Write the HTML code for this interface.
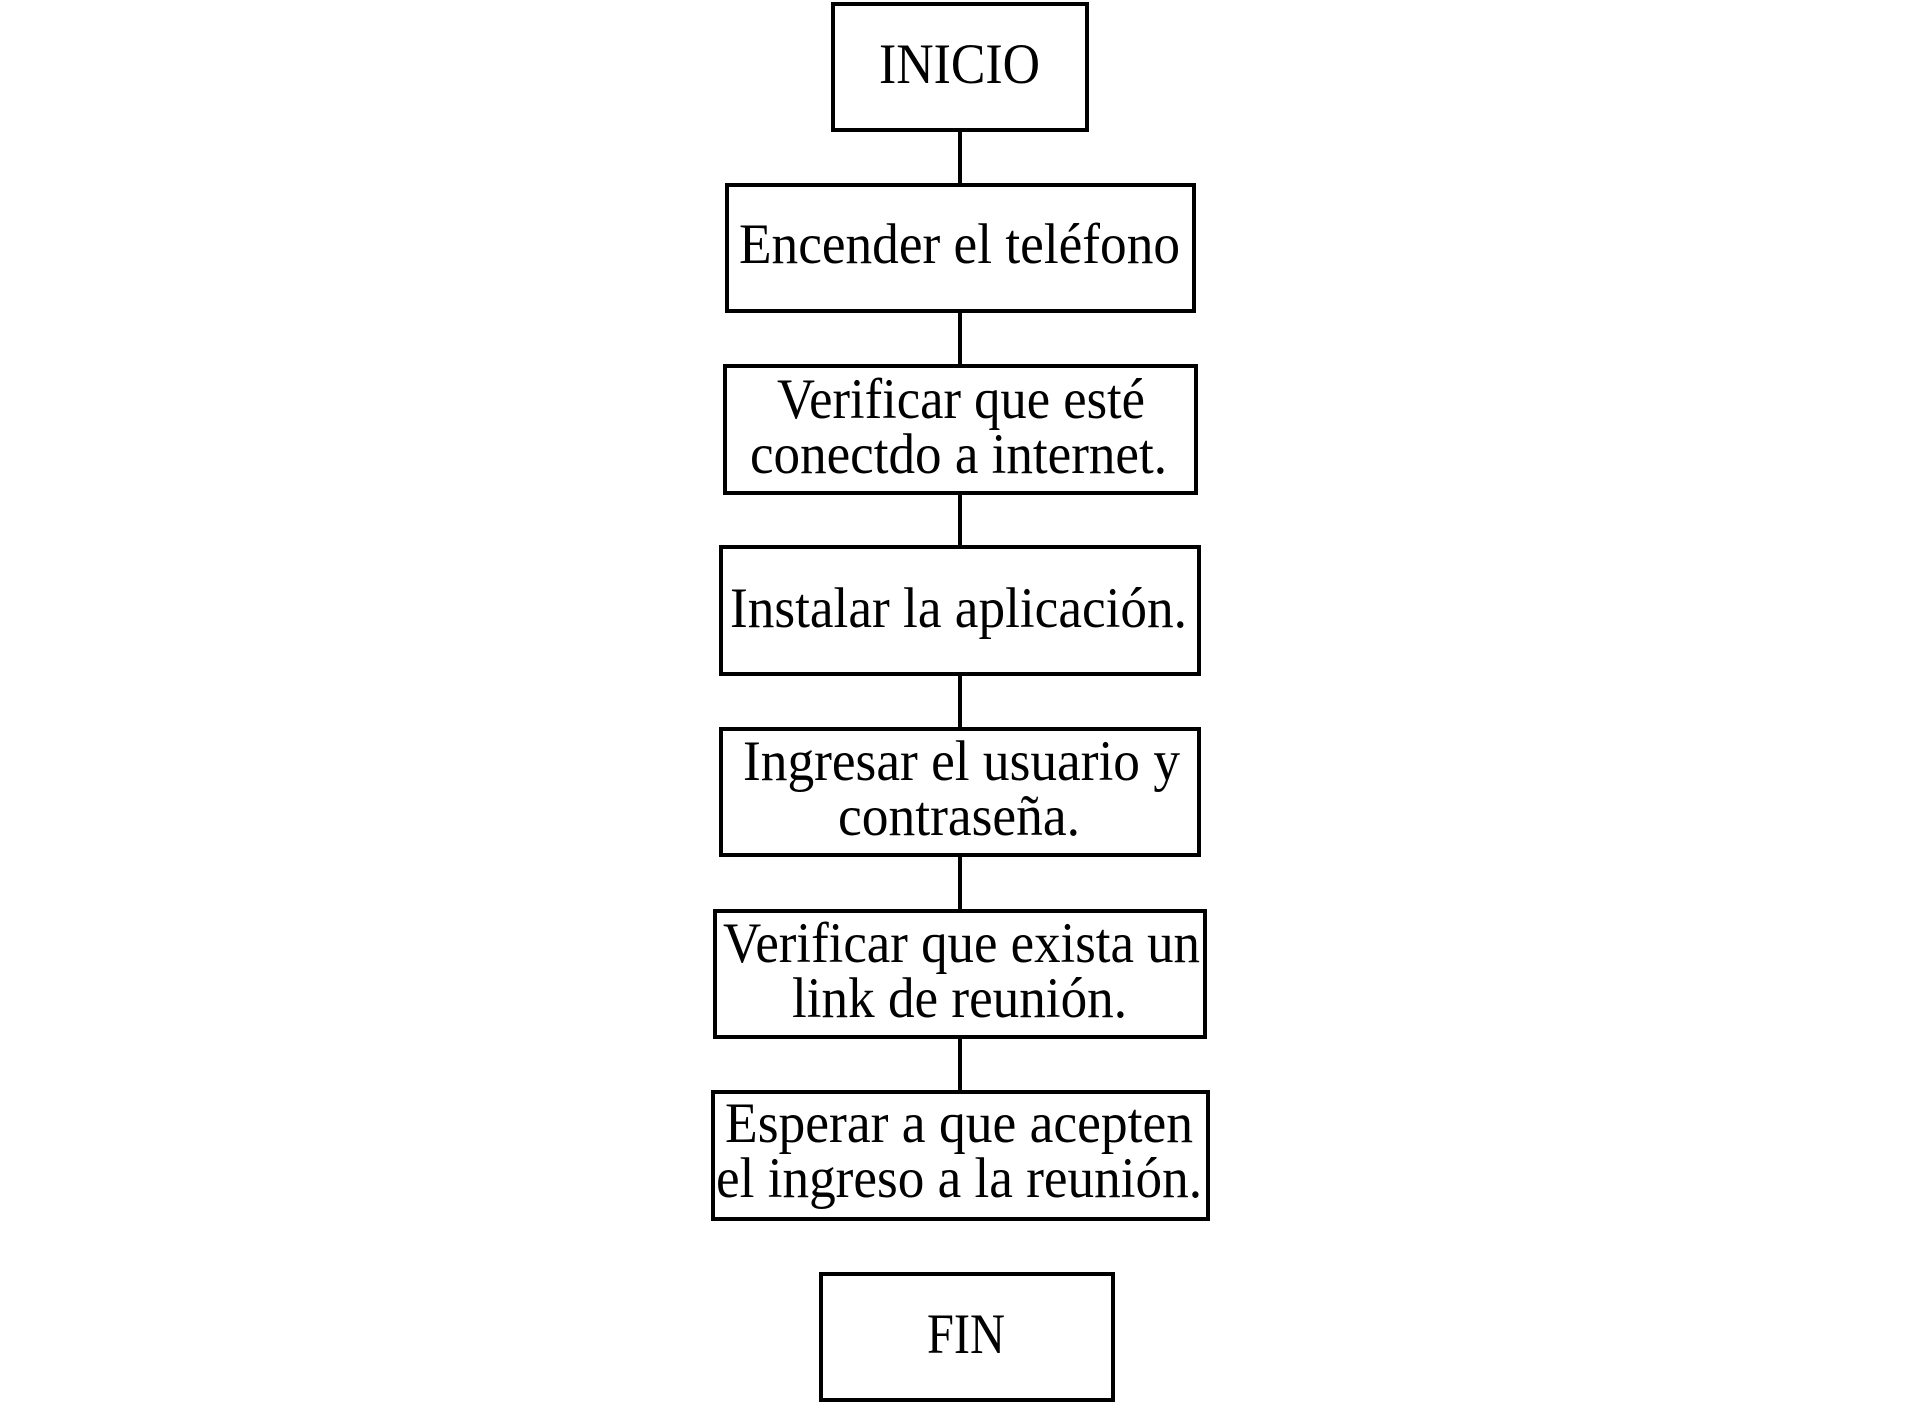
<!DOCTYPE html>
<html><head><meta charset="utf-8"><style>
html,body{margin:0;padding:0;background:#fff;}
svg{display:block;}
text{font-family:"Liberation Serif","Times New Roman",serif;font-size:57px;fill:#000;}
</style></head><body>
<svg width="1920" height="1403" viewBox="0 0 1920 1403" xmlns="http://www.w3.org/2000/svg">
<g stroke="#000" stroke-width="4" fill="none">
<line x1="960" y1="132" x2="960" y2="183"/>
<line x1="960" y1="313" x2="960" y2="364"/>
<line x1="960" y1="495" x2="960" y2="545"/>
<line x1="960" y1="676" x2="960" y2="727"/>
<line x1="960" y1="857" x2="960" y2="909"/>
<line x1="960" y1="1039" x2="960" y2="1090"/>
<rect x="833" y="4" width="254" height="126" fill="#fff"/>
<rect x="727" y="185" width="467" height="126" fill="#fff"/>
<rect x="725" y="366" width="471" height="127" fill="#fff"/>
<rect x="721" y="547" width="478" height="127" fill="#fff"/>
<rect x="721" y="729" width="478" height="126" fill="#fff"/>
<rect x="715" y="911" width="490" height="126" fill="#fff"/>
<rect x="713" y="1092" width="495" height="127" fill="#fff"/>
<rect x="821" y="1274" width="292" height="126" fill="#fff"/>
</g>
<g lengthAdjust="spacingAndGlyphs">
<text x="879" y="83" textLength="161" lengthAdjust="spacingAndGlyphs">INICIO</text>
<text x="739" y="263" textLength="441" lengthAdjust="spacingAndGlyphs">Encender el teléfono</text>
<text x="777" y="418" textLength="368" lengthAdjust="spacingAndGlyphs">Verificar que esté</text>
<text x="750" y="473" textLength="417" lengthAdjust="spacingAndGlyphs">conectdo a internet.</text>
<text x="730" y="627" textLength="457" lengthAdjust="spacingAndGlyphs">Instalar la aplicación.</text>
<text x="743" y="780" textLength="437" lengthAdjust="spacingAndGlyphs">Ingresar el usuario y</text>
<text x="838" y="835" textLength="242" lengthAdjust="spacingAndGlyphs">contraseña.</text>
<text x="723" y="962" textLength="477" lengthAdjust="spacingAndGlyphs">Verificar que exista un</text>
<text x="792" y="1017" textLength="335" lengthAdjust="spacingAndGlyphs">link de reunión.</text>
<text x="725" y="1142" textLength="468" lengthAdjust="spacingAndGlyphs">Esperar a que acepten</text>
<text x="716" y="1197" textLength="486" lengthAdjust="spacingAndGlyphs">el ingreso a la reunión.</text>
<text x="927" y="1353" textLength="78" lengthAdjust="spacingAndGlyphs">FIN</text>
</g>
</svg>
</body></html>
